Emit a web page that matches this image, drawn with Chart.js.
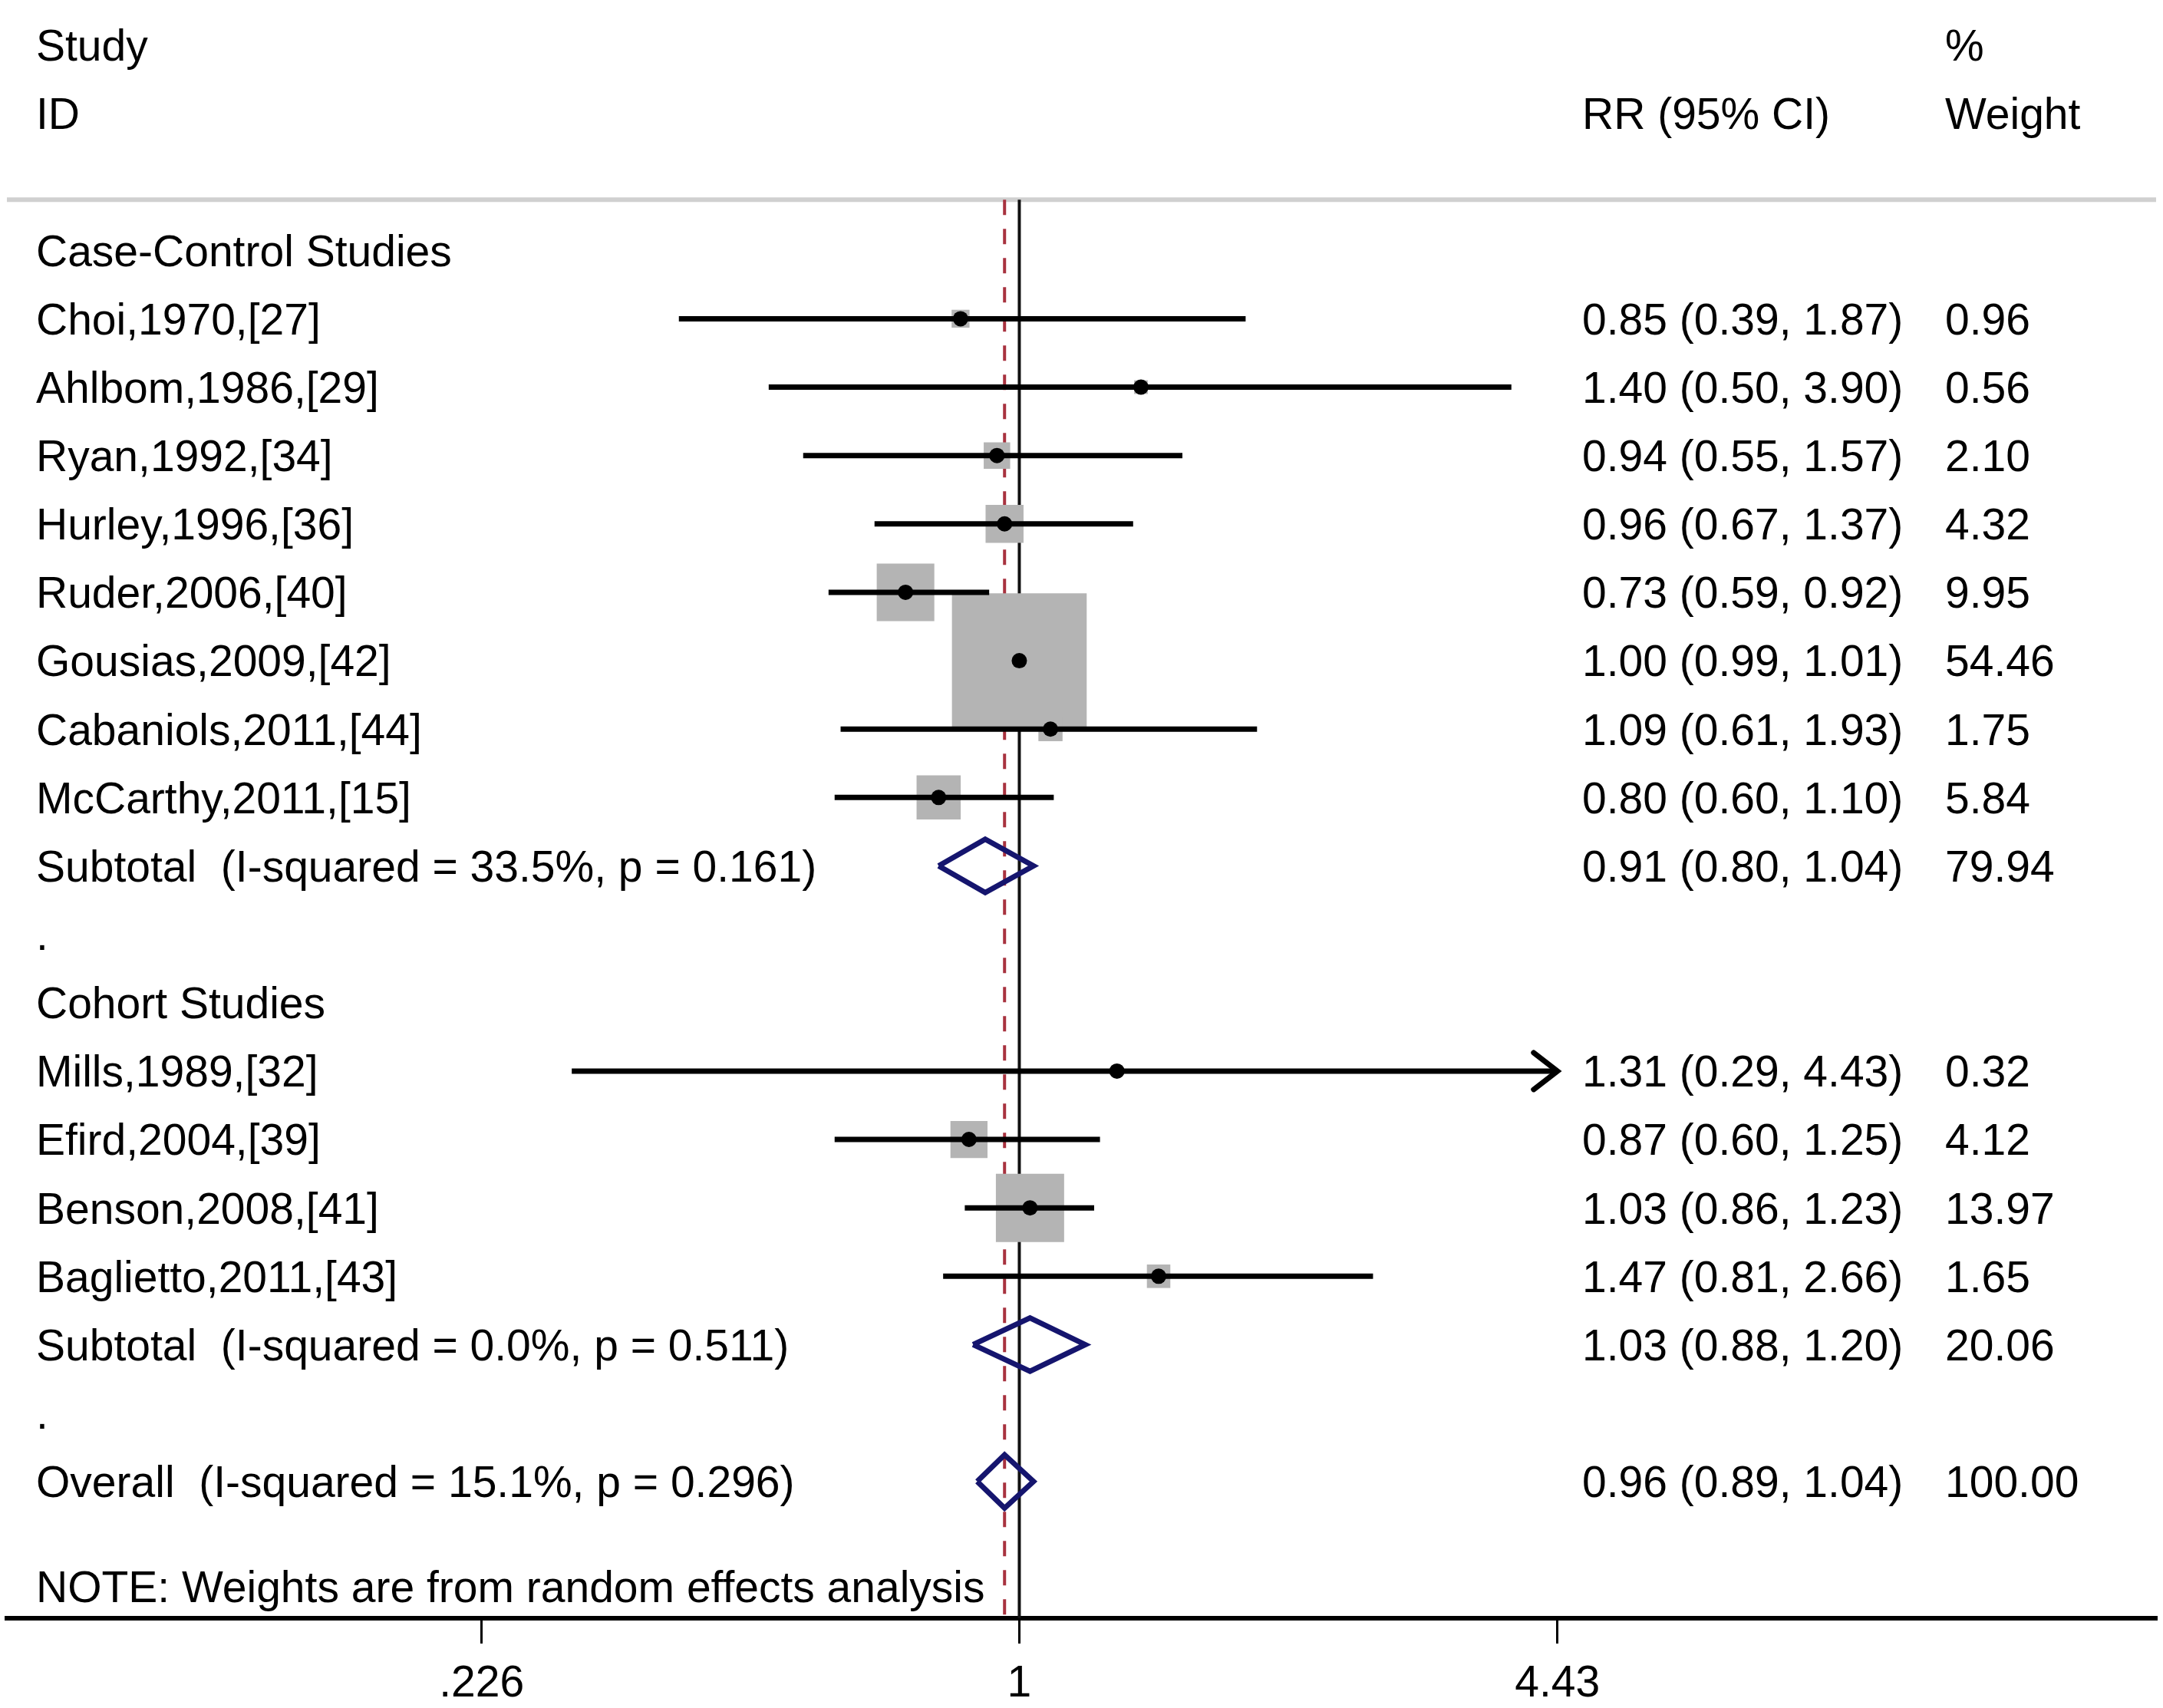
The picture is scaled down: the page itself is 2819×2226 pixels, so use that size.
<!DOCTYPE html>
<html>
<head>
<meta charset="utf-8">
<title>Forest plot</title>
<script src="https://cdn.jsdelivr.net/npm/chart.js@4.4.1/dist/chart.umd.min.js"></script>
<style>
  html, body { margin: 0; padding: 0; background: #fff; }
  #wrap { width: 2819px; height: 2226px; position: relative; }
</style>
</head>
<body>
<div id="wrap"><canvas id="forest"></canvas></div>
<script>
const caseControlStudies = ['Choi,1970,[27]', 'Ahlbom,1986,[29]', 'Ryan,1992,[34]', 'Hurley,1996,[36]', 'Ruder,2006,[40]', 'Gousias,2009,[42]', 'Cabaniols,2011,[44]', 'McCarthy,2011,[15]']
const caseControlRR = [0.85, 1.40, 0.94, 0.96, 0.73, 1.00, 1.09, 0.80]
const caseControlLow = [0.39, 0.50, 0.55, 0.67, 0.59, 0.99, 0.61, 0.60]
const caseControlHigh = [1.87, 3.90, 1.57, 1.37, 0.92, 1.01, 1.93, 1.10]
const caseControlWeight = [0.96, 0.56, 2.10, 4.32, 9.95, 54.46, 1.75, 5.84]

const cohortStudies = ['Mills,1989,[32]', 'Efird,2004,[39]', 'Benson,2008,[41]', 'Baglietto,2011,[43]']
const cohortRR = [1.31, 0.87, 1.03, 1.47]
const cohortLow = [0.29, 0.60, 0.86, 0.81]
const cohortHigh = [4.43, 1.25, 1.23, 2.66]
const cohortWeight = [0.32, 4.12, 13.97, 1.65]

const subgroupNames = ['Case-Control Studies', 'Cohort Studies']
const subtotalLabels = ['Subtotal  (I-squared = 33.5%, p = 0.161)', 'Subtotal  (I-squared = 0.0%, p = 0.511)']
const subtotalRR = [0.91, 1.03]
const subtotalLow = [0.80, 0.88]
const subtotalHigh = [1.04, 1.20]
const subtotalWeight = [79.94, 20.06]

const overallLabel = 'Overall  (I-squared = 15.1%, p = 0.296)'
const overallRR = 0.96
const overallLow = 0.89
const overallHigh = 1.04
const overallWeight = 100.0

const tickValues = [0.226, 1, 4.43]
const tickLabels = ['.226', '1', '4.43']
const noteText = 'NOTE: Weights are from random effects analysis'

// axis bounds so the plot spans the full width like the Stata output
const xMin = 0.0608
const xMax = 23.2
const yTop = -2.66

const FONT = '"Liberation Sans", Arial, sans-serif'
const FONT_SIZE = 57
const NAVY = '#15156e'
const MAROON = '#a8323f'
const BOX_GREY = '#b4b4b4'

const fmt = (v) => v.toFixed(2)

const groups = [
  { name: subgroupNames[0], studies: caseControlStudies, rr: caseControlRR, low: caseControlLow, high: caseControlHigh, weight: caseControlWeight },
  { name: subgroupNames[1], studies: cohortStudies, rr: cohortRR, low: cohortLow, high: cohortHigh, weight: cohortWeight }
]

const studyRows = []
const summaryRows = []
const textRows = [
  { row: -2, label: 'Study', weight: '%' },
  { row: -1, label: 'ID', stats: 'RR (95% CI)', weight: 'Weight' }
]

let row = 1
groups.forEach((g, gi) => {
  textRows.push({ row: row++, label: g.name })
  g.studies.forEach((name, i) => {
    studyRows.push({ row, rr: g.rr[i], low: g.low[i], high: g.high[i], weight: g.weight[i] })
    textRows.push({ row, label: name, stats: `${fmt(g.rr[i])} (${fmt(g.low[i])}, ${fmt(g.high[i])})`, weight: fmt(g.weight[i]) })
    row++
  })
  summaryRows.push({ row, rr: subtotalRR[gi], low: subtotalLow[gi], high: subtotalHigh[gi] })
  textRows.push({ row, label: subtotalLabels[gi], stats: `${fmt(subtotalRR[gi])} (${fmt(subtotalLow[gi])}, ${fmt(subtotalHigh[gi])})`, weight: fmt(subtotalWeight[gi]) })
  row++
  textRows.push({ row: row++, label: '.' })
})
summaryRows.push({ row, rr: overallRR, low: overallLow, high: overallHigh })
textRows.push({ row, label: overallLabel, stats: `${fmt(overallRR)} (${fmt(overallLow)}, ${fmt(overallHigh)})`, weight: fmt(overallWeight) })
textRows.push({ row: row + 1.53, label: noteText })

const axisRow = row + 2
const separatorRow = 0.26
const clipHigh = tickValues[tickValues.length - 1]
const diamondHalf = 0.39
const boxScale = 23.8

const dots = {
  data: studyRows.map((s) => ({ x: s.rr, y: s.row })),
  pointRadius: 10,
  pointBackgroundColor: '#000',
  pointBorderWidth: 0
}

const ciLines = studyRows.map((s) => ({
  data: [{ x: s.low, y: s.row }, { x: Math.min(s.high, clipHigh), y: s.row }],
  showLine: true,
  borderColor: '#000',
  borderWidth: 7,
  borderCapStyle: 'butt',
  pointRadius: 0
}))

const boxes = {
  data: studyRows.map((s) => ({ x: s.rr, y: s.row })),
  pointStyle: 'rect',
  pointRadius: studyRows.map((s) => (boxScale * Math.sqrt(s.weight)) / Math.SQRT2),
  pointBackgroundColor: BOX_GREY,
  pointBorderWidth: 0
}

const diamonds = summaryRows.map((s) => ({
  data: [
    { x: s.low, y: s.row },
    { x: s.rr, y: s.row - diamondHalf },
    { x: s.high, y: s.row },
    { x: s.rr, y: s.row + diamondHalf },
    { x: s.low, y: s.row }
  ],
  showLine: true,
  borderColor: NAVY,
  borderWidth: 7,
  borderJoinStyle: 'miter',
  pointRadius: 0
}))

const nullLine = {
  data: [{ x: 1, y: separatorRow }, { x: 1, y: axisRow }],
  showLine: true,
  borderColor: '#111',
  borderWidth: 4,
  pointRadius: 0
}

const overallLine = {
  data: [{ x: overallRR, y: separatorRow }, { x: overallRR, y: axisRow }],
  showLine: true,
  borderColor: MAROON,
  borderWidth: 4,
  borderDash: [20, 18],
  pointRadius: 0
}

const separator = {
  data: [{ x: xMin, y: separatorRow }, { x: xMax, y: separatorRow }],
  showLine: true,
  borderColor: '#d0d0d0',
  borderWidth: 6,
  pointRadius: 0
}

const arrowHeads = {
  id: 'arrowHeads',
  afterDatasetsDraw(chart) {
    const { ctx, scales: { x, y } } = chart
    ctx.save()
    ctx.strokeStyle = '#000'
    ctx.lineWidth = 7
    ctx.lineCap = 'round'
    ctx.lineJoin = 'miter'
    studyRows.filter((s) => s.high >= clipHigh).forEach((s) => {
      const px = x.getPixelForValue(clipHigh)
      const py = y.getPixelForValue(s.row)
      ctx.beginPath()
      ctx.moveTo(px - 31, py - 24)
      ctx.lineTo(px, py)
      ctx.lineTo(px - 31, py + 24)
      ctx.stroke()
    })
    ctx.restore()
  }
}

const columnText = {
  id: 'columnText',
  afterDraw(chart) {
    const { ctx, scales: { y } } = chart
    ctx.save()
    ctx.fillStyle = '#000'
    ctx.font = `${FONT_SIZE}px ${FONT}`
    ctx.textBaseline = 'alphabetic'
    ctx.textAlign = 'left'
    const capHalf = FONT_SIZE * 0.358
    textRows.forEach((t) => {
      const py = y.getPixelForValue(t.row) + capHalf
      if (t.label) ctx.fillText(t.label, 47, py)
      if (t.stats) ctx.fillText(t.stats, 2062, py)
      if (t.weight) ctx.fillText(t.weight, 2535, py)
    })
    ctx.restore()
  }
}

new Chart(document.getElementById('forest'), {
  type: 'scatter',
  data: {
    datasets: [dots, ...ciLines, boxes, ...diamonds, nullLine, overallLine, separator]
  },
  options: {
    responsive: true,
    maintainAspectRatio: false,
    devicePixelRatio: 1,
    animation: false,
    layout: { autoPadding: false, padding: { left: 9, right: 9, top: 0, bottom: 0 } },
    plugins: { legend: { display: false }, tooltip: { enabled: false } },
    events: [],
    scales: {
      x: {
        type: 'logarithmic',
        position: 'bottom',
        min: xMin,
        max: xMax,
        afterBuildTicks: (scale) => {
          scale.ticks = tickValues.map((value) => ({ value }))
        },
        afterFit: (scale) => {
          scale.height = 117
        },
        ticks: {
          autoSkip: false,
          maxRotation: 0,
          padding: 36,
          color: '#000',
          font: { family: FONT, size: FONT_SIZE, lineHeight: 0.6 },
          callback: (value) => {
            let best = 0
            tickValues.forEach((v, i) => {
              if (Math.abs(v - value) < Math.abs(tickValues[best] - value)) best = i
            })
            return tickLabels[best]
          }
        },
        grid: { display: true, drawOnChartArea: false, drawTicks: true, tickLength: 33, color: '#000', lineWidth: 3 },
        border: { display: true, color: '#000', width: 6 }
      },
      y: {
        type: 'linear',
        reverse: true,
        min: yTop,
        max: axisRow,
        display: false
      }
    }
  },
  plugins: [arrowHeads, columnText]
})
</script>
</body>
</html>
